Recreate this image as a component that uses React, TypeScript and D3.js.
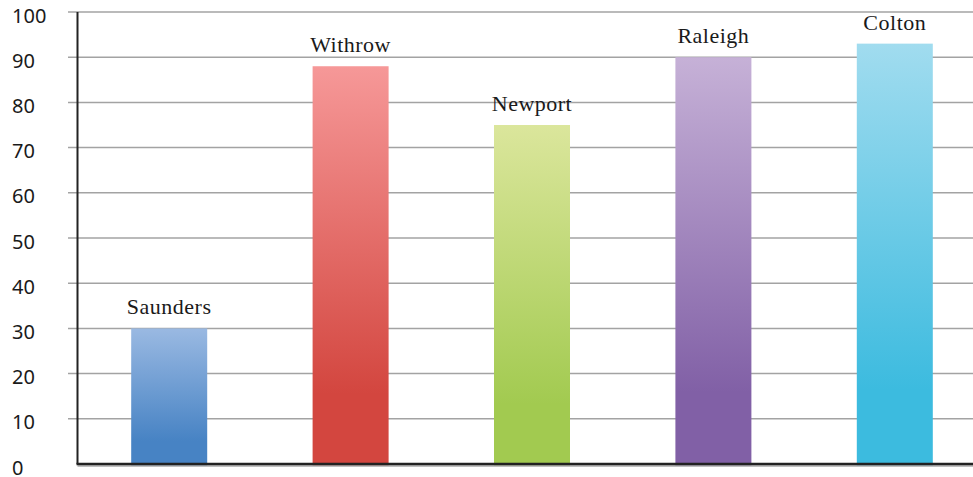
import React from "react";
import * as d3 from "d3";

const categories = ["Saunders", "Withrow", "Newport", "Raleigh", "Colton"];
const values = [30, 88, 75, 90, 93];
const topColors = ["#9ab9e2", "#f69898", "#dbe69c", "#c6b1d7", "#a1dcef"];
const bottomColors = ["#4783c4", "#d3463f", "#a2ca50", "#8160a6", "#3cbbdf"];
const yTicks = [0, 10, 20, 30, 40, 50, 60, 70, 80, 90, 100];

const W = 973;
const H = 477;

export default function App() {
  const y = d3.scaleLinear().domain([0, 100]).range([464, 12]);
  const x = d3.scalePoint<string>().domain(categories).range([78.5, 985.5]).padding(0.5);
  const barW = 76;
  const axisX = 77.5;

  return (
    <svg
      width={W}
      height={H}
      style={{ position: "absolute", left: 0, top: 0, background: "#fff" }}
    >
      <defs>
        {categories.map((c, i) => (
          <linearGradient key={c} id={`grad-${i}`} x1="0" y1="0" x2="0" y2="1">
            <stop offset="0" stopColor={topColors[i]} />
            <stop offset="0.82" stopColor={bottomColors[i]} />
            <stop offset="1" stopColor={bottomColors[i]} />
          </linearGradient>
        ))}
      </defs>

      {/* horizontal grid */}
      {yTicks
        .filter((t) => t > 0)
        .map((t) => (
          <line
            key={t}
            x1={68}
            x2={W}
            y1={y(t)}
            y2={y(t)}
            stroke="#a3a3a3"
            strokeWidth={1.5}
          />
        ))}

      {/* y tick labels */}
      {yTicks.map((t) => (
        <text
          key={t}
          x={12}
          y={y(t) + 10.5}
          fontFamily="'Noto Sans', sans-serif"
          fontSize={20}
          fill="#1a1a1a"
        >
          {t}
        </text>
      ))}

      {/* bars */}
      {categories.map((c, i) => {
        const cx = x(c) as number;
        return (
          <rect
            key={c}
            x={cx - barW / 2}
            y={y(values[i])}
            width={barW}
            height={y(0) + 1.5 - y(values[i])}
            fill={`url(#grad-${i})`}
          />
        );
      })}

      {/* bar labels */}
      {categories.map((c, i) => (
        <text
          key={c}
          x={x(c) as number}
          y={y(values[i]) - 14}
          textAnchor="middle"
          fontFamily="'Liberation Serif', serif"
          fontSize={22}
          letterSpacing={0.5}
          fill="#1a1a1a"
        >
          {c}
        </text>
      ))}

      {/* axes */}
      <line x1={axisX} x2={W} y1={y(0) + 2} y2={y(0) + 2} stroke="#aaaaaa" strokeWidth={1.5} />
      <line x1={axisX - 1} x2={W} y1={y(0)} y2={y(0)} stroke="#222" strokeWidth={2.5} />
      <line x1={axisX} x2={axisX} y1={12} y2={y(0)} stroke="#222" strokeWidth={2} />
    </svg>
  );
}
